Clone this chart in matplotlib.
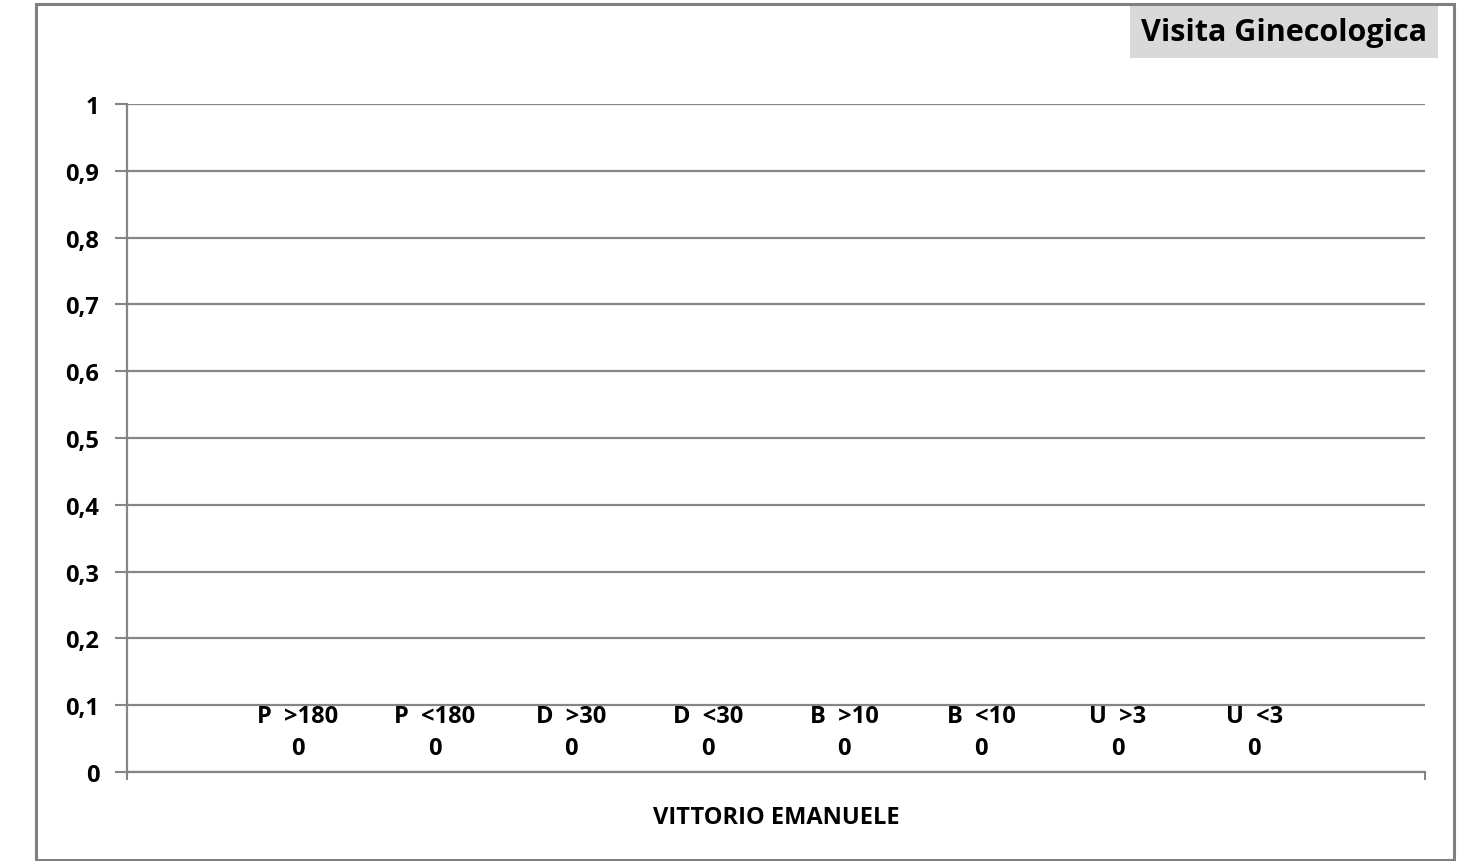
import matplotlib.pyplot as plt
import matplotlib.patches as patches
import numpy as np

plt.rcParams['font.family'] = ['Open Sans', 'DejaVu Sans']
plt.rcParams['font.weight'] = 'bold'

category = 'VITTORIO EMANUELE'
series = ['P  >180', 'P  <180', 'D  >30', 'D  <30', 'B  >10', 'B  <10', 'U  >3', 'U  <3']
values = [0, 0, 0, 0, 0, 0, 0, 0]
title = 'Visita Ginecologica'

grid_col = '#868686'
n = len(series)
w = 1.0 / (n + 1.5)
xs = -0.5 + 0.75 * w + (np.arange(n) + 0.5) * w

fig = plt.figure(figsize=(14.68, 8.62), dpi=100)
ax = fig.add_axes([0.0865, 0.1032, 0.9707 - 0.0865, 0.8782 - 0.1032])

for i in range(n):
    bars = ax.bar(xs[i], values[i], w, color='#4f81bd')
    ax.bar_label(bars, labels=[f'{series[i]}\n{values[i]}'], padding=9,
                 fontsize=17, fontweight='bold', linespacing=1.4)

ax.set_xlim(-0.5, 0.5)
ax.set_ylim(0, 1)
ticks = np.arange(0, 1.01, 0.1)
ax.set_yticks(ticks)
ax.set_yticklabels([f'{v:.1f}'.rstrip('0').rstrip('.').replace('.', ',') for v in ticks],
                   fontsize=17, fontweight='bold')
ax.set_xticks([-0.5, 0.5])
ax.set_xticklabels([])
ax.tick_params(axis='y', length=9, width=1.5, color=grid_col, pad=11)
ax.tick_params(axis='x', length=6, width=1.5, color=grid_col)
ax.yaxis.grid(True, color=grid_col, linewidth=1.6)
ax.set_axisbelow(True)
for s in ['top', 'right']:
    ax.spines[s].set_visible(False)
for s in ['left', 'bottom']:
    ax.spines[s].set_color(grid_col)
    ax.spines[s].set_linewidth(1.6)
ax.set_xlabel(category, fontsize=17, fontweight='bold', labelpad=14)

fig.patches.append(patches.Rectangle((0.0245, 0.001), 0.9905 - 0.0245, 0.9942 - 0.001,
                                     transform=fig.transFigure, fill=False,
                                     edgecolor='#808080', linewidth=2.2))
fig.text(0.8747, 0.9617, title, ha='center', va='center', fontsize=22, fontweight='bold',
         bbox=dict(boxstyle='square,pad=0.35', facecolor='#d9d9d9', edgecolor='none'))

fig.savefig('out.png', dpi=100)
